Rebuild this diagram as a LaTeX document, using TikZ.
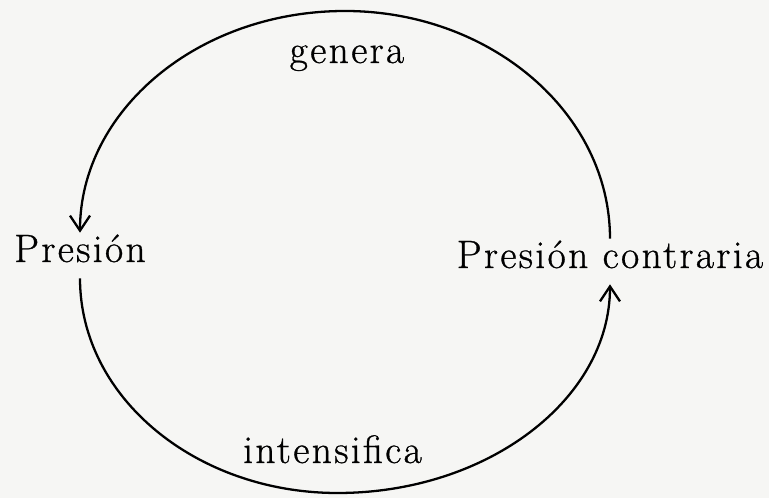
\documentclass[tikz,border=0pt]{standalone}
\usepackage{fontspec}
\usepackage{xcolor}
\usepackage{tikz}
\usetikzlibrary{arrows.meta,positioning,calc}
\definecolor{paper}{RGB}{246,246,244}
\newfontfamily\spacedfont{Latin Modern Roman}[LetterSpace=6,FakeBold=0.8]

\begin{document}
\begin{tikzpicture}[
  font=\spacedfont\fontsize{22.5}{27}\selectfont,
  term/.style={inner sep=0pt, text height=0.58cm, text depth=0.32cm, anchor=base},
  verb/.style={inner sep=0pt, anchor=base},
  arrow/.style={-{Straight Barb[length=0.3cm,width=0.4cm,line width=1.3pt]},line width=1.3pt}
]
\fill[paper] (0,0) rectangle (15.38,9.96);
\useasboundingbox (0,0) rectangle (15.38,9.96);

% Nodes
\node[term] (P) at (1.6,4.72) {Presión};
\node[term] (PC) at (12.2,4.6) {Presión contraria};
\node[verb] (G) at (6.94,8.7) {genera};
\node[verb] (I) at (6.65,0.7) {intensifica};

\coordinate (top) at (6.9,9.74);
\coordinate (bot) at (6.75,0.1);

% Arrows
\draw[arrow] (PC.north) .. controls +(0,2.52) and +(2.9,0) .. (top)
  .. controls +(-2.95,0) and +(0,2.43) .. (P.north);

\draw[arrow] (P.south) .. controls +(0,-2.39) and +(-2.82,0) .. (bot)
  .. controls +(3.0,0) and +(0,-2.3) .. (PC.south);

\end{tikzpicture}
\end{document}
